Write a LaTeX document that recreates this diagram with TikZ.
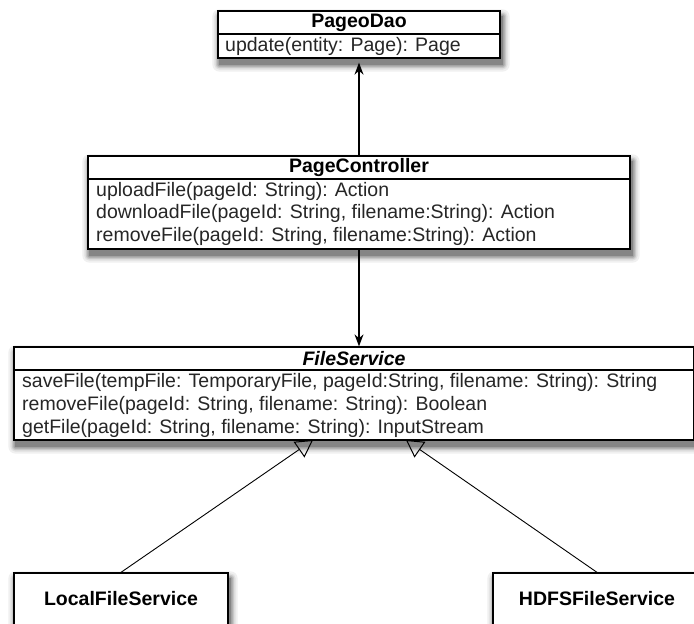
\documentclass[tikz,border=0pt]{standalone}
\usepackage{fontspec}
\setmainfont{Liberation Sans}
\usetikzlibrary{arrows.meta}
\pgfdeclarelayer{background}
\pgfsetlayers{background,main}

% soft drop shadow under a named box: stacked grey rectangles, lighter as they grow
\newcommand{\softshadow}[1]{%
  \foreach \r/\c in {7/6,5/12,3.5/22,2/34,0.5/48}{%
    \fill[black!\c, rounded corners=\r pt]
      ([xshift=2pt-\r pt, yshift=-6pt+\r pt]#1.north west) rectangle
      ([xshift=2pt+\r pt, yshift=-6pt-\r pt]#1.south east);
  }%
}

\begin{document}
\begin{tikzpicture}[x=1pt,y=-1pt,
  classbox/.style={draw=black, line width=1.3pt, fill=white, inner sep=0pt},
  title/.style={font=\fontsize{19.5}{22}\selectfont\bfseries, inner sep=0pt},
  member/.style={font=\fontsize{19.5}{22}\selectfont, inner sep=0pt, anchor=west, text=black!85},
  divider/.style={line width=1.1pt},
  assoc/.style={line width=1.3pt, -{Stealth[length=12pt,width=9pt]}},
  gen/.style={line width=0.9pt, -{Triangle[open,length=17pt,width=19pt,line width=1pt]}}
]
\useasboundingbox (0,0) rectangle (694,624);

% PageoDao
\node[classbox, minimum width=282pt, minimum height=47pt] (dao) at (359,34.5) {};
\draw[divider] (dao.west |- 0,34) -- (dao.east |- 0,34);
\node[title] (daoT) at (359,22.5) {PageoDao};
\node[member] (daoM1) at (225,46) {update(entity: Page): Page};

% PageController
\node[classbox, minimum width=542pt, minimum height=93pt] (pc) at (359,202.5) {};
\draw[divider] (pc.west |- 0,179) -- (pc.east |- 0,179);
\node[title] (pcT) at (359,167.5) {PageController};
\node[member] (pcM1) at (96,191) {uploadFile(pageId: String): Action};
\node[member] (pcM2) at (96,213) {downloadFile(pageId: String, filename:String): Action};
\node[member] (pcM3) at (96,236) {removeFile(pageId: String, filename:String): Action};

% FileService (abstract)
\node[classbox, minimum width=680pt, minimum height=93pt] (fs) at (354,393.5) {};
\draw[divider] (fs.west |- 0,370) -- (fs.east |- 0,370);
\node[title, font=\fontsize{19.5}{22}\selectfont\bfseries\itshape] (fsT) at (354,358.5) {FileService};
\node[member] (fsM1) at (22,382) {saveFile(tempFile: TemporaryFile, pageId:String, filename: String): String};
\node[member] (fsM2) at (22,405) {removeFile(pageId: String, filename: String): Boolean};
\node[member] (fsM3) at (22,428) {getFile(pageId: String, filename: String): InputStream};

% implementations
\node[classbox, minimum width=214pt, minimum height=60pt] (local) at (121,603) {};
\node[title] (localT) at (121,599) {LocalFileService};
\node[classbox, minimum width=208pt, minimum height=60pt] (hdfs) at (597,603) {};
\node[title] (hdfsT) at (597,599) {HDFSFileService};

% shadows behind every box
\begin{pgfonlayer}{background}
  \softshadow{dao}
  \softshadow{pc}
  \softshadow{fs}
  \softshadow{local}
  \softshadow{hdfs}
\end{pgfonlayer}

% connectors
\coordinate (fsL) at (313,440);
\coordinate (fsR) at (406,440);
\draw[assoc, shorten >=4pt] (pc.north) -- (dao.south);
\draw[assoc] (pc.south) -- (fs.north -| pc.south);
\draw[gen] (local.north) -- (fsL);
\draw[gen] (hdfs.north) -- (fsR);
\end{tikzpicture}
\end{document}
